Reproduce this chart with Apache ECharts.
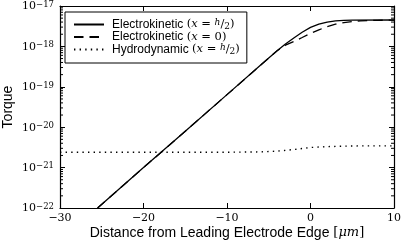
<!DOCTYPE html>
<html>
<head>
<meta charset="utf-8">
<script src="https://cdn.jsdelivr.net/npm/echarts@6/dist/echarts.min.js"></script>
<style>
  html, body { margin: 0; padding: 0; background: #fff; }
  #chart { width: 402px; height: 245px; }
</style>
</head>
<body>
<div id="chart"></div>
<script>
// data
const xSolid = [-25.5, -20, -15, -10, -6, -4, -3, -2, -1, 0, 1, 2, 3, 4, 5, 10];
const torqueSolid = [1e-22, 1e-21, 7.9e-21, 6.4e-20, 3.4e-19, 7.8e-19, 1.15e-18, 1.62e-18, 2.24e-18,
  2.95e-18, 3.55e-18, 3.98e-18, 4.27e-18, 4.42e-18, 4.47e-18, 4.5e-18];

const xDashed = [-25.5, -20, -15, -10, -6, -4, -3, -2, -1, 0, 1, 2, 3, 4, 5, 6, 8, 10];
const torqueDashed = [1e-22, 1e-21, 7.9e-21, 6.4e-20, 3.4e-19, 7.8e-19, 1.07e-18, 1.32e-18, 1.66e-18,
  2.09e-18, 2.57e-18, 3.09e-18, 3.55e-18, 3.89e-18, 4.12e-18, 4.27e-18, 4.42e-18, 4.47e-18];

const xDotted = [-30, -20, -10, -6, -4, -2, 0, 2, 4, 6, 10];
const torqueDotted = [2.4e-21, 2.4e-21, 2.4e-21, 2.45e-21, 2.55e-21, 2.8e-21, 3.15e-21, 3.3e-21, 3.4e-21, 3.45e-21, 3.45e-21];

const seriesNames = ['Electrokinetic (x = h/2)', 'Electrokinetic (x = 0)', 'Hydrodynamic (x = h/2)'];
const legendLabels = [
  '{t|Electrokinetic }{m|(}{i|x}{m| = }{h|h}{m|/}{two|2}{m|)}',
  '{t|Electrokinetic }{m|(}{i|x}{m| = 0)}',
  '{t|Hydrodynamic }{m|(}{i|x}{m| = }{h|h}{m|/}{two|2}{m|)}'
];

const xMin = -30, xMax = 10;
// a hair under 1e-22 so the bottom decade tick survives rounding
const yMin = 0.99999e-22, yMax = 1e-17;

// minor log ticks (2..9 per decade)
const minorTicks = [];
for (let d = -22; d < -17; d++) {
  for (let k = 2; k <= 9; k++) minorTicks.push(k * Math.pow(10, d));
}

function zip(xs, ys) { return xs.map((x, i) => [x, ys[i]]); }

const serif = 'DejaVu Serif';
const sans = 'Liberation Sans';

const myChart = echarts.init(document.getElementById('chart'), null, { renderer: 'canvas' });

const axisLine = { show: true, onZero: false, lineStyle: { color: '#000', width: 1.2 } };
const tick = { show: true, inside: true, length: 5, lineStyle: { color: '#000', width: 1 } };

const option = {
  animation: false,
  backgroundColor: '#fff',
  grid: { left: 60, top: 6, right: 8, bottom: 37, outerBoundsMode: 'none' },
  legend: {
    data: seriesNames,
    orient: 'vertical',
    left: 65,
    top: 12,
    itemWidth: 30,
    itemHeight: 13,
    itemGap: 0,
    padding: [6, 7, 7, 8],
    borderColor: '#000',
    borderWidth: 1,
    borderRadius: 0,
    backgroundColor: '#fff',
    selectedMode: false,
    itemStyle: { color: 'rgba(0,0,0,0)', borderWidth: 0, opacity: 0 },
    formatter: function (name) { return legendLabels[seriesNames.indexOf(name)]; },
    textStyle: {
      padding: [0, 0, 0, 3],
      rich: {
        t: { fontFamily: sans, fontSize: 12, lineHeight: 13, color: '#000' },
        m: { fontFamily: serif, fontSize: 11.5, lineHeight: 13, color: '#000' },
        i: { fontFamily: serif, fontStyle: 'italic', fontSize: 11.5, lineHeight: 13, color: '#000' },
        h: { fontFamily: serif, fontStyle: 'italic', fontSize: 9, lineHeight: 9, padding: [0, 0, 4, 0], color: '#000' },
        two: { fontFamily: serif, fontSize: 9, lineHeight: 9, padding: [4, 0, 0, 0], color: '#000' }
      }
    }
  },
  xAxis: [
    {
      type: 'value', min: xMin, max: xMax, interval: 10,
      axisLine: axisLine, axisTick: tick, splitLine: { show: false },
      axisLabel: {
        margin: 5, color: '#000', fontFamily: serif, fontSize: 11,
        showMinLabel: true, showMaxLabel: true, hideOverlap: false,
        formatter: v => String(v).replace('-', '\u2212')
      },
      name: '{t|Distance from Leading Electrode Edge }{m|[}{i|μm}{m|]}',
      nameLocation: 'middle', nameGap: 18, nameMoveOverlap: false,
      nameTextStyle: {
        rich: {
          t: { fontFamily: sans, fontSize: 14, color: '#000' },
          m: { fontFamily: serif, fontSize: 13, color: '#000' },
          i: { fontFamily: serif, fontStyle: 'italic', fontSize: 13, color: '#000' }
        }
      }
    },
    {
      type: 'value', position: 'top', min: xMin, max: xMax, interval: 10,
      axisLine: axisLine, axisTick: tick, axisLabel: { show: false }, splitLine: { show: false }
    }
  ],
  yAxis: [
    {
      type: 'log', logBase: 10, min: yMin, max: yMax,
      axisLine: axisLine, axisTick: tick, splitLine: { show: false },
      axisLabel: {
        margin: 6, showMinLabel: true, showMaxLabel: true, hideOverlap: false,
        formatter: function (v) {
          const e = Math.round(Math.log10(v));
          return '{b|10}{s|' + (e < 0 ? '\u2212' : '') + Math.abs(e) + '}';
        },
        rich: {
          b: { fontFamily: serif, fontSize: 11, lineHeight: 12, verticalAlign: 'bottom', color: '#000' },
          s: { fontFamily: serif, fontSize: 8.5, lineHeight: 9, padding: [0, 0, 6, 0], verticalAlign: 'top', color: '#000' }
        }
      },
      name: 'Torque', nameLocation: 'middle', nameGap: 45, nameRotate: 90, nameMoveOverlap: false,
      nameTextStyle: { fontFamily: sans, fontSize: 14, color: '#000' }
    },
    {
      type: 'log', logBase: 10, min: yMin, max: yMax, position: 'right',
      axisLine: axisLine, axisTick: tick, axisLabel: { show: false }, splitLine: { show: false }
    }
  ],
  series: [
    {
      name: seriesNames[0], type: 'line', symbol: 'none', z: 3,
      data: zip(xSolid, torqueSolid),
      lineStyle: { color: '#000', width: 1.3, type: 'solid' },
      itemStyle: { color: '#000' }
    },
    {
      name: seriesNames[1], type: 'line', symbol: 'none', z: 3,
      data: zip(xDashed, torqueDashed),
      lineStyle: { color: '#000', width: 1.3, type: [9.5, 6] },
      itemStyle: { color: '#000' }
    },
    {
      name: seriesNames[2], type: 'line', symbol: 'none', z: 3,
      data: zip(xDotted, torqueDotted),
      lineStyle: { color: '#000', width: 1.4, type: [1.4, 4.2] },
      itemStyle: { color: '#000' }
    },
    {
      // minor ticks of the log axes, left and right
      type: 'custom', silent: true, clip: false, z: 4,
      data: minorTicks.map(v => [xMin, v]),
      renderItem: function (params, api) {
        const l = api.coord([xMin, api.value(1)]);
        const r = api.coord([xMax, api.value(1)]);
        return {
          type: 'group',
          children: [
            { type: 'line', shape: { x1: l[0], y1: l[1], x2: l[0] + 3, y2: l[1] }, style: { stroke: '#000', lineWidth: 1 } },
            { type: 'line', shape: { x1: r[0], y1: r[1], x2: r[0] - 3, y2: r[1] }, style: { stroke: '#000', lineWidth: 1 } }
          ]
        };
      }
    }
  ]
};

myChart.setOption(option);
window.addEventListener('resize', function () { myChart.resize(); });
</script>
</body>
</html>
